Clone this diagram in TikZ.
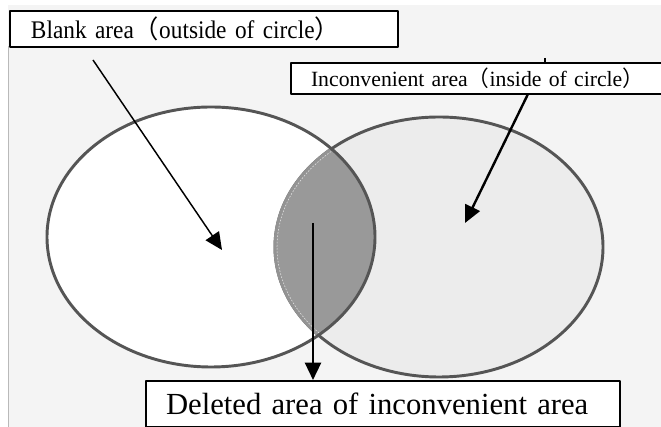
\documentclass[tikz,border=0pt]{standalone}
\usepackage{fontspec}
\setmainfont{Liberation Serif}
\newfontfamily\cjk{Noto Sans CJK SC}
\usetikzlibrary{arrows.meta}
\definecolor{bggray}{HTML}{F4F4F4}
\definecolor{ringgray}{HTML}{555555}
\definecolor{rightfill}{HTML}{ECECEC}
\definecolor{lensfill}{HTML}{999999}
\begin{document}
\begin{tikzpicture}[x=0.75pt,y=-0.75pt,line join=round,>={Triangle[length=13pt,width=12pt]},
	labelbox/.style={draw=black,line width=1.5pt,fill=white,anchor=north west,align=left,inner ysep=0pt},
	ring/.style={draw=ringgray,line width=2.2pt}]
			\def \rx{164};
			\def \ry{130};
			\clip (0,0) rectangle (661,427);
			\fill[bggray] (8,5) rectangle (661,427);
			\draw[gray!55] (8,46) -- (8,427);
			\fill[white] (211,237) ellipse [x radius=\rx, y radius=\ry];
			\filldraw[fill=rightfill,ring] (439,247) ellipse [x radius=\rx, y radius=\ry];
			\begin{scope}
				\clip (211,237) ellipse [x radius=\rx, y radius=\ry];
				\filldraw[fill=lensfill,draw=gray!85,line width=2.2pt] (439,247) ellipse [x radius=\rx, y radius=\ry];
				\draw[white!80!gray,line width=0.4pt,dash pattern=on 1.2pt off 1.2pt] (439,247) ellipse [x radius=\rx-2, y radius=\ry-2];
			\end{scope}
			\draw[ring] (211,237) ellipse [x radius=\rx, y radius=\ry];
			\node[labelbox,inner xsep=15.75pt,text width=259.5pt,minimum height=27pt,font={\fontsize{19}{22}\selectfont\addfontfeature{FakeStretch=0.92}}] (blank) at (9,10) {Blank area{\cjk （}outside of circle{\cjk ）}};
			\node[labelbox,inner xsep=15pt,text width=262.5pt,minimum height=23.25pt,font=\fontsize{16.3}{19}\selectfont] (inc) at (290,62) {Inconvenient area{\cjk （}inside of circle{\cjk ）}};
			\node[labelbox,inner xsep=15pt,text width=325.5pt,minimum height=34.5pt,font=\fontsize{23}{26}\selectfont] (deleted) at (145,380) {Deleted area of inconvenient area};
			% arrows
			\coordinate (blanktail) at (93,60);
			\coordinate (blanktip) at (222,250);
			\coordinate (inctail) at (545,58);
			\coordinate (incfoot) at (528,94);
			\coordinate (inctip) at (465,223);
			\coordinate (deltail) at (313,223);
			\draw[->,line width=1.1pt] (blanktail) -- (blanktip);
			\draw[line width=1.2pt] (inctail) -- (inctail |- inc.north);
			\draw[->,line width=1.8pt] (incfoot) -- (inctip);
			\draw[->,line width=1.8pt] (deltail) -- (deltail |- deleted.north);
		\end{tikzpicture}
\end{document}
